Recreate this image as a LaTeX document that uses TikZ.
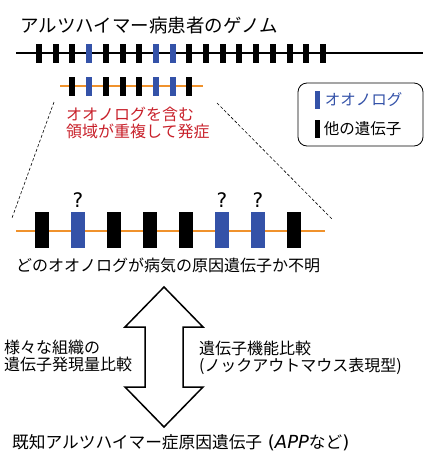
\documentclass[tikz,border=0pt]{standalone}
\usepackage{fontspec}
\setmainfont{Noto Sans CJK JP}
\newfontfamily\latinfont{DejaVu Sans}
\definecolor{geneblue}{RGB}{52,82,168}
\definecolor{segorange}{RGB}{240,146,44}
\definecolor{notered}{RGB}{200,32,42}
\tikzset{
  txt/.style={font=\fontsize{16}{17}\selectfont,inner sep=0pt,anchor=west,align=left},
  tick/.style={rectangle,inner sep=0pt,minimum width=6pt,minimum height=19pt},
  gene/.style={rectangle,inner sep=0pt,minimum width=14pt,minimum height=36pt},
}
\begin{document}
\begin{tikzpicture}[x=1pt,y=-1pt]
      \useasboundingbox (0,0) rectangle (436,461);
      \node[txt,font=\fontsize{18.5}{19}\selectfont] (title) at (20,25) {アルツハイマー病患者のゲノム};
      % whole genome
      \draw[line width=1.6pt] (16,53) coordinate (g0) -- (423,53) coordinate (g1);
      \foreach \i in {0,1,2,4,5,6,9,10,...,17}
        \node[tick,fill=black] (t\i) at (39+16.7*\i,53) {};
      \foreach \i in {3,7,8}
        \node[tick,fill=geneblue] (t\i) at (39+16.7*\i,53) {};
      % duplicated region
      \draw[segorange,line width=1.8pt] (60,86) coordinate (d0) -- (203,86) coordinate (d1);
      \foreach \i in {2,4,5,6,9}
        \node[tick,fill=black] (d\i) at (39+16.7*\i,86) {};
      \foreach \i in {3,7,8}
        \node[tick,fill=geneblue] (d\i) at (39+16.7*\i,86) {};
      \node[txt,text=notered] (dup) at (66,123) {オオノログを含む\\領域が重複して発症};
      % legend
      \draw[line width=0.8pt,rounded corners=9pt] (298,83) rectangle (423,146);
      \node[rectangle,inner sep=0pt,minimum width=5pt,minimum height=18pt,fill=geneblue] (lb) at (317,100) {};
      \node[txt,text=geneblue,font=\fontsize{15.5}{16}\selectfont,xshift=5pt] (lbt) at (lb.east) {オオノログ};
      \node[rectangle,inner sep=0pt,minimum width=5pt,minimum height=18pt,fill=black] (lk) at (317,129) {};
      \node[txt,font=\fontsize{15.5}{16}\selectfont,xshift=4pt] (lkt) at (lk.east) {他の遺伝子};
      % zoomed region
      \coordinate (zl) at (54,102);
      \coordinate (zr) at (217,103);
      \draw[segorange,line width=2.4pt] (16,231) coordinate (b0) -- (325,231) coordinate (b1);
      \coordinate (el) at (12,218);
      \coordinate (er) at (333,220);
      \draw[dash pattern=on 3pt off 2pt,line width=0.6pt] (zl) -- (el);
      \draw[dash pattern=on 3pt off 2pt,line width=0.6pt] (zr) -- (er);
      \foreach \i in {0,2,3,4,7}
        \node[gene,fill=black] (b\i) at (42+36*\i,230) {};
      \foreach \i in {1,5,6} {
        \node[gene,fill=geneblue] (b\i) at (42+36*\i,230) {};
        \node[font=\latinfont\fontsize{20}{20}\selectfont,inner sep=0pt] (q\i) at (42+36*\i,200) {?};
      }
      \node[txt] (unk) at (16,265) {どのオオノログが病気の原因遺伝子か不明};
      % comparison
      \draw[line width=1.5pt,fill=white] (164,287) coordinate (at) -- (125,327) -- (145,327) -- (145,387)
        -- (125,387) -- (164,427) coordinate (ab) -- (203,387) -- (183,387) -- (183,327) -- (203,327) -- cycle;
      \node[txt] (expr) at (4,356) {様々な組織の\\遺伝子発現量比較};
      \node[txt] (func) at (199,358) {遺伝子機能比較\\(ノックアウトマウス表現型)};
      \node[txt,font=\fontsize{16.7}{17}\selectfont] (known) at (12,443)
        {既知アルツハイマー症原因遺伝子{\latinfont\fontsize{18}{18}\selectfont\ (\textit{APP}}など{\latinfont\fontsize{18}{18}\selectfont)}};
    \end{tikzpicture}
\end{document}
